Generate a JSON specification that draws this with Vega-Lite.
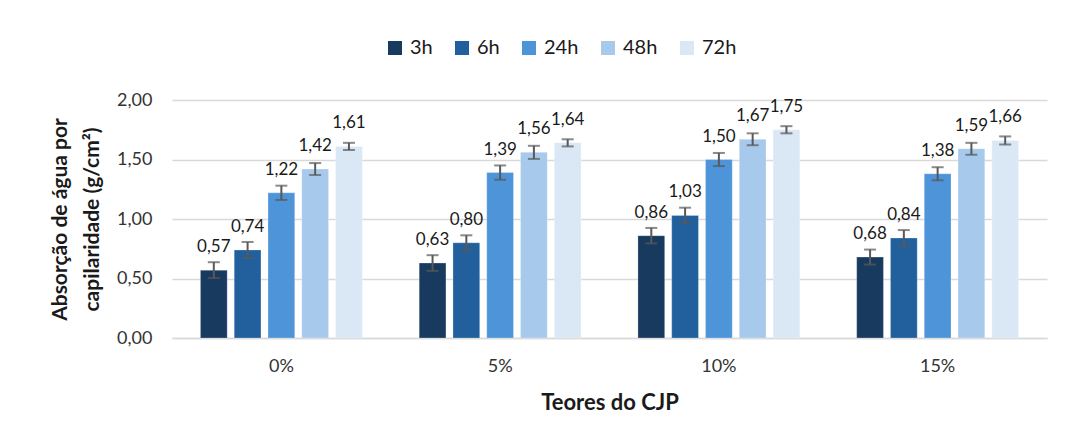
{
  "$schema": "https://vega.github.io/schema/vega-lite/v6.json",
  "width": 875,
  "height": 238,
  "autosize": {"type": "none"},
  "padding": {"left": 172, "top": 100, "right": 18, "bottom": 105},
  "background": "white",
  "config": {
    "font": "Lato",
    "view": {"stroke": null},
    "locale": {"number": {"decimal": ",", "thousands": ".", "grouping": [3], "currency": ["", ""]}}
  },
  "data": {
    "values": [
      {"teor": "0%", "tempo": "3h", "valor": 0.57, "lo": 0.503, "hi": 0.637},
      {"teor": "0%", "tempo": "6h", "valor": 0.74, "lo": 0.673, "hi": 0.807},
      {"teor": "0%", "tempo": "24h", "valor": 1.22, "lo": 1.16, "hi": 1.28},
      {"teor": "0%", "tempo": "48h", "valor": 1.42, "lo": 1.37, "hi": 1.47},
      {"teor": "0%", "tempo": "72h", "valor": 1.61, "lo": 1.58, "hi": 1.64},
      {"teor": "5%", "tempo": "3h", "valor": 0.63, "lo": 0.564, "hi": 0.696},
      {"teor": "5%", "tempo": "6h", "valor": 0.80, "lo": 0.737, "hi": 0.863},
      {"teor": "5%", "tempo": "24h", "valor": 1.39, "lo": 1.33, "hi": 1.45},
      {"teor": "5%", "tempo": "48h", "valor": 1.56, "lo": 1.505, "hi": 1.615},
      {"teor": "5%", "tempo": "72h", "valor": 1.64, "lo": 1.61, "hi": 1.67},
      {"teor": "10%", "tempo": "3h", "valor": 0.86, "lo": 0.795, "hi": 0.925},
      {"teor": "10%", "tempo": "6h", "valor": 1.03, "lo": 0.965, "hi": 1.095},
      {"teor": "10%", "tempo": "24h", "valor": 1.50, "lo": 1.445, "hi": 1.555},
      {"teor": "10%", "tempo": "48h", "valor": 1.67, "lo": 1.62, "hi": 1.72},
      {"teor": "10%", "tempo": "72h", "valor": 1.75, "lo": 1.72, "hi": 1.78},
      {"teor": "15%", "tempo": "3h", "valor": 0.68, "lo": 0.617, "hi": 0.743},
      {"teor": "15%", "tempo": "6h", "valor": 0.84, "lo": 0.773, "hi": 0.907},
      {"teor": "15%", "tempo": "24h", "valor": 1.38, "lo": 1.325, "hi": 1.435},
      {"teor": "15%", "tempo": "48h", "valor": 1.59, "lo": 1.54, "hi": 1.64},
      {"teor": "15%", "tempo": "72h", "valor": 1.66, "lo": 1.626, "hi": 1.694}
    ]
  },
  "encoding": {
    "x": {
      "field": "teor", "type": "nominal", "sort": ["0%", "5%", "10%", "15%"],
      "scale": {"paddingInner": 0.26, "paddingOuter": 0.13},
      "axis": {
        "title": "Teores do CJP", "titleFontSize": 22, "titleFontWeight": "bold", "titleColor": "#1a1a1a",
        "titlePadding": 17,
        "labelAngle": 0, "labelFontSize": 18, "labelColor": "#333333", "labelPadding": 19,
        "ticks": false, "domainColor": "#d9d9d9", "domainWidth": 1.5
      }
    },
    "xOffset": {
      "field": "tempo", "type": "nominal", "sort": ["3h", "6h", "24h", "48h", "72h"],
      "scale": {"paddingInner": 0.208, "paddingOuter": 0}
    }
  },
  "layer": [
    {
      "mark": {"type": "bar", "stroke": "white", "strokeOpacity": 0.25, "strokeWidth": 1},
      "encoding": {
        "y": {
          "field": "valor", "type": "quantitative",
          "scale": {"domain": [0, 2]},
          "axis": {
            "title": ["Absorção de água por", "capilaridade (g/cm²)"],
            "titleFontSize": 21, "titleFontWeight": "bold", "titleColor": "#1a1a1a", "titlePadding": 14,
            "titleLineHeight": 32,
            "values": [0, 0.5, 1, 1.5, 2], "format": ".2f",
            "labelFontSize": 18, "labelColor": "#333333", "labelPadding": 20,
            "ticks": false, "domain": false,
            "gridColor": "#d9d9d9", "gridWidth": 1.5
          }
        },
        "color": {
          "field": "tempo", "type": "nominal", "sort": ["3h", "6h", "24h", "48h", "72h"],
          "scale": {"domain": ["3h", "6h", "24h", "48h", "72h"], "range": ["#183A5F", "#21609C", "#4E94D8", "#A7CAEC", "#DAE8F6"]},
          "legend": {
            "title": null, "orient": "none", "direction": "horizontal",
            "legendX": 213, "legendY": -62,
            "symbolType": "square", "symbolSize": 196, "symbolStrokeWidth": 0,
            "labelFontSize": 20, "labelColor": "#1a1a1a", "labelOffset": 5,
            "columnPadding": 19
          }
        }
      }
    },
    {
      "mark": {"type": "rule", "color": "#595959", "strokeWidth": 2},
      "encoding": {
        "y": {"field": "lo", "type": "quantitative"},
        "y2": {"field": "hi"}
      }
    },
    {
      "mark": {"type": "tick", "color": "#595959", "thickness": 2, "size": 12},
      "encoding": {"y": {"field": "lo", "type": "quantitative"}}
    },
    {
      "mark": {"type": "tick", "color": "#595959", "thickness": 2, "size": 12},
      "encoding": {"y": {"field": "hi", "type": "quantitative"}}
    },
    {
      "mark": {"type": "text", "baseline": "alphabetic", "dy": -18, "fontSize": 17, "color": "#1a1a1a"},
      "encoding": {
        "y": {"field": "valor", "type": "quantitative"},
        "text": {"field": "valor", "type": "quantitative", "format": ".2f"}
      }
    }
  ]
}
